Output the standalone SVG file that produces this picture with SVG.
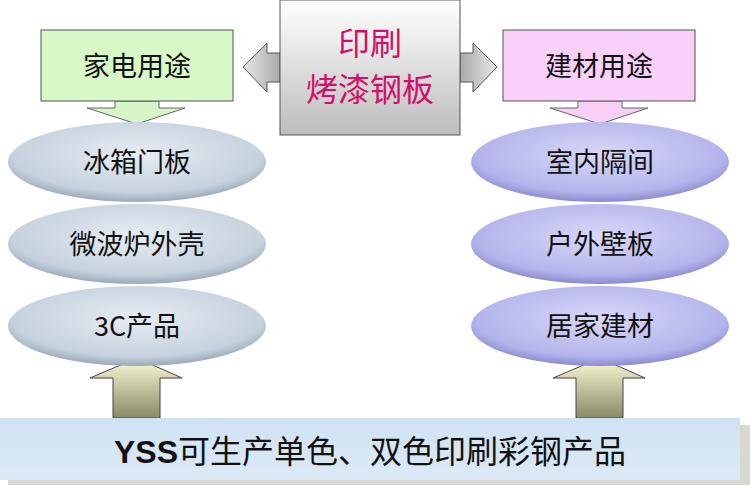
<svg xmlns="http://www.w3.org/2000/svg" width="750" height="490" viewBox="0 0 750 490">
<defs>
<linearGradient id="gray" x1="0" y1="0" x2="0" y2="1"><stop offset="0" stop-color="#ffffff"/><stop offset="1" stop-color="#bdbdbd"/></linearGradient>
<linearGradient id="garr" x1="0" y1="0" x2="1" y2="0"><stop offset="0" stop-color="#e8e8e8"/><stop offset="1" stop-color="#a8a8a8"/></linearGradient>
<linearGradient id="garr2" x1="1" y1="0" x2="0" y2="0"><stop offset="0" stop-color="#e8e8e8"/><stop offset="1" stop-color="#a8a8a8"/></linearGradient>
<radialGradient id="e1" cx="0.5" cy="0.4" r="0.6"><stop offset="0" stop-color="#e6ecf2"/><stop offset="0.8" stop-color="#c6d2de"/><stop offset="1" stop-color="#9aa8b8"/></radialGradient>
<radialGradient id="e2" cx="0.5" cy="0.4" r="0.6"><stop offset="0" stop-color="#d8d8f8"/><stop offset="0.8" stop-color="#b4b4ec"/><stop offset="1" stop-color="#8a8ad0"/></radialGradient>
<linearGradient id="up" x1="0" y1="0" x2="0" y2="1"><stop offset="0" stop-color="#fbfbd8"/><stop offset="1" stop-color="#8a8a66"/></linearGradient>
<linearGradient id="bar" x1="0" y1="0" x2="0" y2="1"><stop offset="0" stop-color="#cfe2f3"/><stop offset="1" stop-color="#dde9f6"/></linearGradient>
</defs>
<style>
.t{font-family:"Noto Sans CJK SC","Liberation Sans",sans-serif;fill:#111;text-anchor:middle}
.box{stroke:#555;stroke-width:1}
</style>
<g id="connectors">
<polygon points="115,101 159,101 159,108 185,108 137,124 87,108 115,108" fill="#d8f5c8" stroke="#666"/>
<polygon points="578,101 622,101 622,108 648,108 600,124 550,108 578,108" fill="#f8d0f6" stroke="#666"/>
<polygon points="280,53 267,53 267,43 243,67 267,92 267,82 280,82" fill="url(#garr)" stroke="#555"/>
<polygon points="460,53 473,53 473,43 497,67 473,92 473,82 460,82" fill="url(#garr2)" stroke="#555"/>
<polygon points="113,418 113,378 90,378 137,358 182,378 160,378 160,418" fill="url(#up)" stroke="#444"/>
<polygon points="576,418 576,378 553,378 600,358 645,378 623,378 623,418" fill="url(#up)" stroke="#444"/>
</g>
<g id="center"><rect x="280" y="0" width="180" height="135" fill="url(#gray)" class="box"/>
<text class="t" x="370" y="55" font-size="32" style="fill:#d0106a">印刷</text>
<text class="t" x="370" y="101" font-size="32" style="fill:#d0106a">烤漆钢板</text></g>
<g id="home"><rect x="41" y="30" width="192" height="71" fill="#d8f8c8" class="box"/><text class="t" x="137" y="76" font-size="27">家电用途</text></g>
<g id="build"><rect x="503" y="30" width="192" height="71" fill="#f8d0f8" class="box"/><text class="t" x="599" y="76" font-size="27">建材用途</text></g>
<g id="l1"><ellipse cx="137" cy="162" rx="129" ry="40" fill="url(#e1)"/><text class="t" x="137" y="172" font-size="27">冰箱门板</text></g>
<g id="l2"><ellipse cx="137" cy="244" rx="129" ry="40" fill="url(#e1)"/><text class="t" x="137" y="254" font-size="27">微波炉外壳</text></g>
<g id="l3"><ellipse cx="137" cy="326" rx="129" ry="40" fill="url(#e1)"/><text class="t" x="137" y="336" font-size="27">3C产品</text></g>
<g id="r1"><ellipse cx="600" cy="162" rx="129" ry="40" fill="url(#e2)"/><text class="t" x="600" y="172" font-size="27">室内隔间</text></g>
<g id="r2"><ellipse cx="600" cy="244" rx="129" ry="40" fill="url(#e2)"/><text class="t" x="600" y="254" font-size="27">户外壁板</text></g>
<g id="r3"><ellipse cx="600" cy="326" rx="129" ry="40" fill="url(#e2)"/><text class="t" x="600" y="336" font-size="27">居家建材</text></g>
<g id="bottom"><rect x="8" y="425" width="742" height="60" fill="#d8d8d0"/><rect x="0" y="418" width="740" height="62" fill="url(#bar)"/>
<text class="t" x="370" y="463" font-size="32"><tspan font-family="Liberation Sans" font-weight="bold">YSS</tspan>可生产单色、双色印刷彩钢产品</text></g>
</svg>
